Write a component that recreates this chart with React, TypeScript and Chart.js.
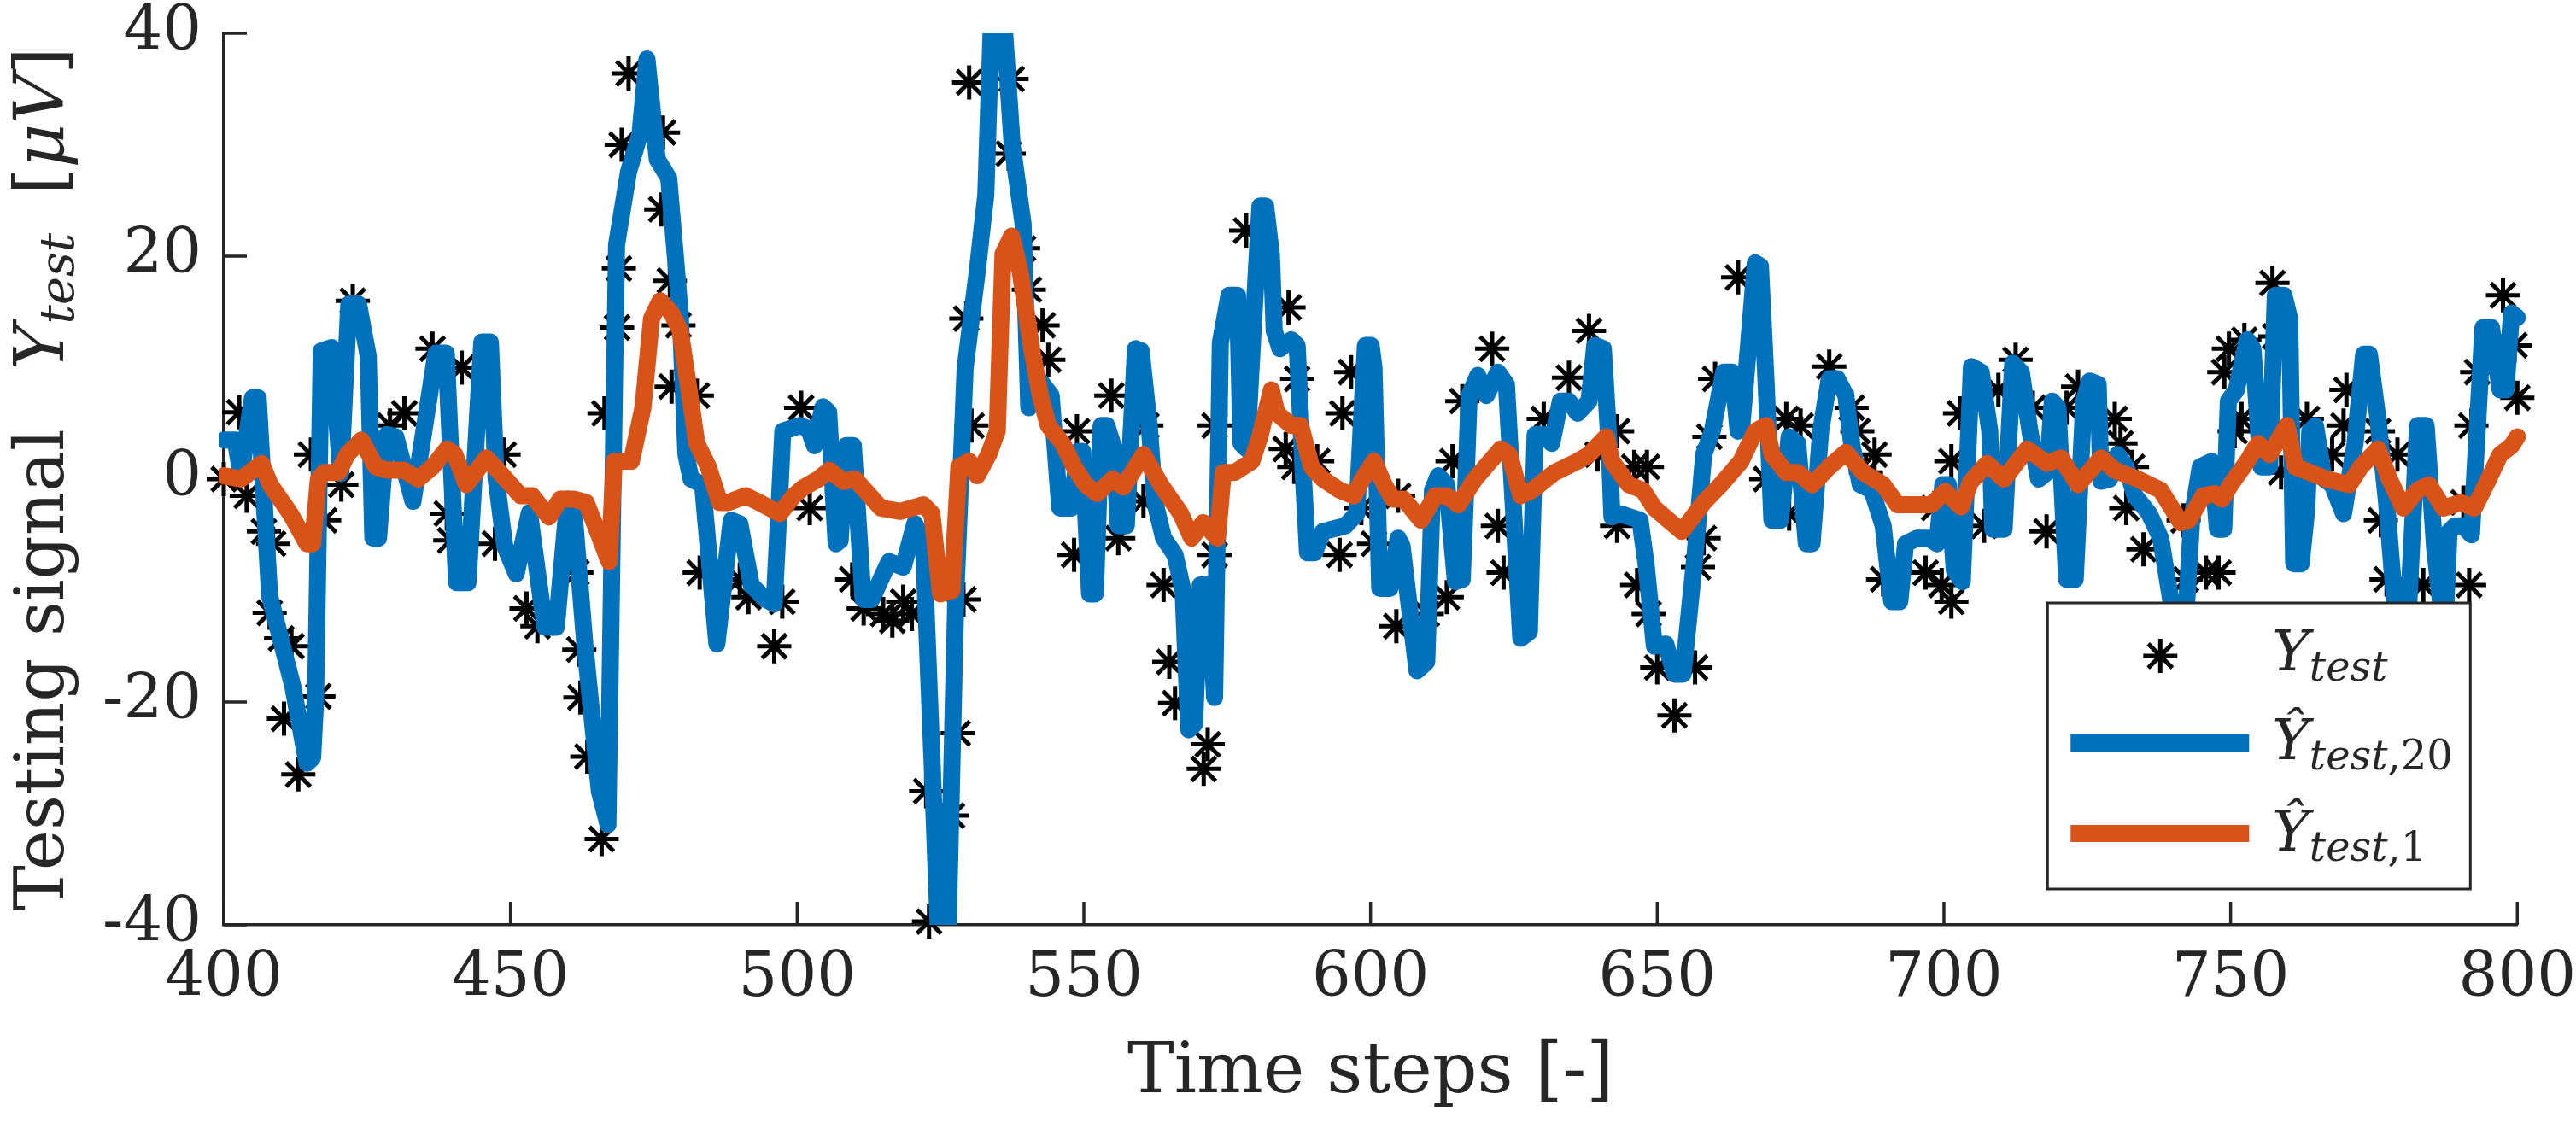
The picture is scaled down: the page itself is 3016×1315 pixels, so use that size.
import React, { useEffect, useRef } from "react";
import { Chart, registerables, Plugin } from "chart.js";

Chart.register(...registerables);

// Measured test signal (asterisks)
const testSteps = [
  400, 402.7, 404, 407, 408.6, 408, 410, 411.8, 410.5, 413, 416.5, 415.2, 417.5, 420.5, 422.5, 429, 431.5, 436.4,
  438.9, 439.5, 441.5, 447.3, 448.8, 452.8, 454.7, 461.5, 462, 462.2, 463.4, 465.9, 466.4, 468.6, 468.9, 469.4,
  470.6, 476.3, 476.6, 477.8, 478.1, 479.3, 482.5, 483, 490, 491.5, 496, 497.4, 500.7, 502.2, 509.6, 511.6, 515,
  516.6, 518.5, 520, 522.5, 523, 527, 528, 529, 529.5, 530.4, 530, 536.9, 537.4, 539.4, 540.4, 542.8, 543.8, 548.3,
  548.8, 554.8, 556, 560.4, 560.9, 563.9, 564.9, 565.9, 570.9, 571.6, 572.8, 572.8, 578.3, 585.2, 585.7, 586.7,
  587.2, 590.7, 594.6, 595.1, 596.6, 598.4, 600.6, 604.5, 604.8, 609.8, 613.3, 614.3, 616, 621.2, 622.2, 623.2,
  630.2, 634.6, 638.1, 639.6, 643, 643, 646, 646.5, 648.2, 648.5, 650, 653, 656.6, 657.1, 658.1, 659.1, 660.1,
  664.1, 669, 672.5, 673, 675, 680, 683.9, 684.9, 686.4, 687.9, 689.4, 696.8, 698.3, 699.6, 701.3, 701.3, 702.8,
  707, 709.5, 712.5, 715.5, 717.9, 721.4, 723.4, 729.8, 730.8, 731.8, 732.8, 734.8, 741.8, 742.2, 745.7, 747.9,
  748.9, 749.7, 750.7, 751.9, 752.4, 757.3, 757.8, 758.8, 763.3, 767.7, 769.7, 770.2, 775.7, 776.2, 777.2, 779.1,
  783.6, 790.6, 791.6, 792, 793, 797.5, 799.5, 800,
];
const testValues = [
  0, 6, -1.5, -4.7, -5.8, -12, -14.3, -15, -21.5, -26.5, -19.5, 2.2, -3.7, -0.5, 16, 4.8, 5.9, 11.7,
  -3.1, -5.5, 10, -5.8, 2.2, -11.6, -13.2, -8.4, -15.3, -19.6, -24.9, -32.3, 5.9, 13.6, 18.9, 30,
  36.4, 24.2, 31.1, 17.8, 8.3, 13.8, 7.5, -8.4, -9, -10.6, -15, -11, 6.4, -2.6, -9, -11.6, -12.1,
  -12.7, -11, -12.1, -28, -39.7, -30.2, -22.8, -10.8, 14.4, 4.8, 35.6, 29.2, 35.9, 20.7, 17, 13.8, 10.7, -6.8,
  4.3, 7.5, -5.3, -2, 4.8, -9.5, -16.4, -20.1, -26, -23.8, 4.8, -6.8, 22.3, 2.7, 15.4, 1.1,
  9, 1.6, -6.8, 5.9, 9.6, -2.6, -5.8, -13.2, -1.5, -12.1, -10.6, 1.6, 7, 11.7, -4.2, -8.4,
  5.4, 9.1, 13.3, 2.2, 4.3, -4.2, 1.1, -9.5, 1.1, -12.1, -16.9, -21.2, -16.9, -7.9, -5.3, 3.8, 9,
  18.1, 0, 5.4, -3.1, 4.8, 10.1, 6.4, 4.3, 0.6, 2.2, -9, -8.4, -2.6, -9.5, -11, 1.6, 5.9,
  -4.2, 8, 10.7, 6.4, -4.7, 6.4, 8.3, 5.4, 3.2, -2.6, 1.1, -6.3, -3.7, -9, -8.4, -8.4,
  9.6, 11.7, 4.3, 5.4, 12.5, 17.6, 12.8, 0.6, 5.4, 2.2, 4.8, 8, 4.3, -3.7, -9, 2.2,
  -9.5, -2.1, -9.5, 4.8, 9.6, 16.5, 12, 7.3,
];

// Prediction with 20 terms (blue)
const blueSteps = [
  400, 402, 403, 405, 406, 408, 412, 414.5, 415.5, 416, 417, 418.8, 420.4, 421.8, 423.5, 425.2, 426, 427, 428.4,
  430, 433, 437, 438.8, 440.6, 442.6, 445, 446.5, 447.5, 449, 451, 453.3, 456, 458, 460, 461, 463, 465.5, 467,
  468.5, 470.6, 472.6, 473.8, 475.6, 477.6, 479.6, 480.6, 481.5, 483.5, 486, 488.5, 490, 492, 494.5, 496, 497.5,
  500.5, 502, 503, 504.5, 505.5, 506.8, 507.5, 508.5, 509.8, 511.5, 513, 516, 518.5, 520.5, 522, 523.5, 524.8,
  526.2, 527.7, 529.3, 531.4, 532.9, 534, 535.8, 537.5, 539.4, 540.4, 542.4, 544.3, 545.8, 547.8, 549, 549.8,
  551, 552, 553, 554, 555.3, 556, 557.4, 559, 560, 561.4, 562.4, 563.9, 565.9, 567.3, 568.3, 569.3, 570.3, 571.8,
  572.8, 573.8, 575.3, 576.8, 577.4, 578.4, 580.7, 581.7, 582.7, 583.2, 584.2, 586.2, 587.2, 588.2, 589, 590.2,
  591.7, 595.6, 597.6, 599.1, 600.1, 600.6, 601.6, 603.4, 604.8, 605.5, 608.1, 609.8, 610.8, 611.8, 613.3, 614.8,
  616, 617.2, 618.7, 620.2, 622.2, 623.7, 626.2, 627.7, 628.7, 630.2, 631.6, 633.1, 634.6, 636.1, 638.1, 639.1,
  640.6, 641.6, 642.1, 643.5, 647, 648, 649.5, 651.5, 653, 654.5, 656.6, 658.1, 659.6, 661.6, 663.1, 664.1, 664.8,
  667.1, 668, 669, 670, 671.5, 673, 674.5, 676, 677, 678.5, 680, 681.4, 682.9, 683.9, 685.4, 687.4, 689.4, 690.9,
  692.3, 693.3, 695.3, 697.3, 698.8, 699.8, 700.8, 701.8, 703.2, 704.8, 706.5, 708, 708.5, 710.5, 712, 713.5, 715,
  716.5, 718, 718.9, 719.9, 721.4, 722.9, 724.4, 725.4, 726.9, 727.4, 728.9, 730.3, 731.8, 733.3, 735.8, 737.8,
  739.8, 741, 742, 743.2, 744.7, 746.7, 747.7, 748.8, 749.6, 751, 752.9, 753.9, 755.3, 756.8, 757.8, 759.3, 760.3,
  761, 762.3, 763.3, 763.8, 764.8, 766.3, 767.7, 769.7, 771.7, 773.2, 774.2, 775.7, 777.2, 778.7, 780, 781, 782.6,
  784.1, 785.6, 786.6, 787.3, 788.1, 789.1, 790.6, 792, 794, 795.5, 797, 798, 799, 800,
];
const blueValues = [
  3.5, 3.5, 0.5, 7.3, 7.3, -10.5, -18.5, -25.5, -25, -20, 11.5, 11.8, 0.5, 15.7, 15.7, 11, -5.3, -5.3, 4,
  3.8, -2, 11.3, 11.3, -9.3, -9.3, 12.3, 12.3, 0, -6, -8.5, -3, -13.3, -13.3, -1.8, -2.5, -15, -28, -31,
  21, 27.6, 31, 37.7, 28.7, 27, 14.9, 2.2, 0, -0.5, -14.8, -3.7, -4, -9.5, -10.8, -11.2, 4.3,
  4.8, 4.5, 3, 6.5, 6, -5.8, -5.5, 3, 3, -10.8, -10.8, -7.4, -7.9, -4, -5.5, -25, -43,
  -43, -10, 10, 18.6, 25.5, 43, 43, 30, 22.9, 6.4, 8.8, 7.5, -2.6, -2.6, 2.5, 2.5,
  -10.3, -10.3, 4.8, 4.8, 2.7, -4.2, -4.2, 11.7, 11.5, 4.8, -2.1, -5.3, -6.8, -10, -22.5, -22, -9.5, -9.5,
  -19.6, 12.2, 16.5, 16.5, 3.2, 2.7, 24.5, 24.5, 20.2, 13.3, 11.7, 12.5, 12, 1.1, -6.6, -6.6,
  -4.7, -4.2, -3.1, 12, 12, 10, -9.8, -9.8, -5.3, -6, -17.2, -16.4, -1, 0.3, -0.5, -9.2,
  -9, 7.5, 9.3, 7.5, 9.6, 8.5, -14.3, -13.7, 4, 4, 3.2, 7, 7, 5.9, 7, 12,
  11.7, 3.2, -3.4, -3.1, -3.7, -7.4, -15, -14.8, -17.5, -17.5, -6.8, 2.2, 4.3, 9.6, 9.6, 4.3, 5,
  19.4, 19.1, 8.5, -3.7, -3.7, 3.8, 3.2, -5.8, -5.8, 4.3, 9, 9, 7.5, 3.2, -0.5, -1, -4.2, -11,
  -11, -5.8, -5.3, -5.3, -5.8, -0.5, -0.5, -8.2, -9.2, 10.1, 9.6, 4.3, -4.5, -4.5, 10.4, 9.6, 4.3,
  0, 0.6, 7, 6.4, -9, -9, 7, 8.8, 8.5, -0.2, 0, 2.2, 1.1, -1.5, -3.1, -5.3,
  -11.6, -18, -14, -3.7, 1.1, 1.6, -4.5, -4.5, 7, 8, 12.5, 11.7, 1.1, 1.1, 16.5, 16.5, 14.4,
  -7.6, -7.6, -2.6, 4.3, 4.8, 0, -0.5, -3.1, 3.2, 11.2, 11.2, 5.4, -2.1, -11.6, -16, -12, 4.8,
  4.8, -6.3, -11, -14, -4.7, -4.2, -4.2, -5, 13.6, 13.6, 8, 8, 14.9, 14.5,
];

// Prediction with 1 term (orange)
const orangeSteps = [
  400, 403, 406.6, 408.1, 411.6, 414.5, 415.5, 416.5, 417.5, 420, 421.5, 424, 426.5, 428.4, 431.4, 433.9, 436.4,
  438.9, 440.3, 442.3, 445.8, 447.8, 451.8, 453.8, 456.7, 458.7, 461, 463.2, 465.2, 467.2, 468.1, 471.1, 473.1,
  474.6, 476.1, 478.1, 479.6, 481, 482.5, 484.5, 486.5, 488, 491, 493.4, 497, 499.4, 501, 503.7, 505.6, 508.1,
  510.1, 514.6, 518, 522, 523.5, 525, 527, 528.2, 530, 531.4, 533.4, 534.9, 535.9, 537.4, 538.9, 540.9, 542.4,
  543.8, 546.3, 548.3, 550.3, 552.3, 555, 556.9, 560.4, 563.4, 566.9, 568.8, 570.8, 573.3, 574.3, 576.3, 579.3,
  580.7, 582.7, 583.7, 586.2, 587.8, 589.7, 591.7, 594.6, 597.1, 598.6, 600.6, 602.4, 603.9, 605.8, 608.8, 611.3,
  613.3, 615.3, 618.2, 622.7, 624.2, 626.2, 628.2, 632.1, 636.1, 638.1, 641.1, 642.1, 645, 647.5, 649.5, 652,
  654.3, 658.1, 661.1, 664.6, 667.1, 669, 670, 672.5, 674.5, 677, 680, 682.9, 685.9, 689.4, 691.9, 697.8, 700.2,
  703, 704.6, 707.5, 710.5, 714.5, 718, 720.4, 723.4, 727.4, 729.8, 733.8, 737.8, 741.3, 742.7, 745.2, 747.2,
  748.5, 750, 752.9, 754.8, 756.8, 759.8, 761.3, 763.8, 766.7, 770.7, 772.7, 775.7, 777.7, 780.1, 782.6, 784.6,
  787.1, 790.1, 792.5, 795, 797, 799, 800,
];
const orangeValues = [
  0.3, 0, 1.4, -0.5, -3.1, -5.8, -5.8, 0, 0.6, 0.6, 2.2, 3.5, 1.1, 0.8, 0.8, 0, 1.1,
  2.7, 2.2, -0.5, 1.9, 0.8, -1.5, -1.5, -3.4, -1.8, -1.8, -2.1, -4.7, -7.4, 1.6, 1.6, 6.4,
  14.4, 16, 14.9, 13.3, 8.5, 3.2, 1.1, -2.1, -2.1, -1.5, -2.1, -3.1, -1.5, -0.8, 0, 0.8, -0.2,
  0, -2.6, -2.9, -2.3, -3.1, -10.3, -10, 1.1, 1.6, 0.3, 2.2, 4.3, 20.2, 21.8, 18.6, 11.7, 7.5,
  4.8, 3.2, 1.1, -0.5, -1.3, 0, -0.7, 2.2, -0.5, -3.1, -5.3, -3.9, -5.3, 0.6, 0.6, 1.6,
  3.8, 8, 5.9, 4.8, 4.8, 1.1, 0, -1, -1.5, 0, 1.6, -0.5, -1.8, -1.8, -3.7, -1.5,
  -1.5, -2.3, 0, 2.7, 2.2, -1.5, -1, 0.6, 1.6, 2.2, 3.8, 1.6, -0.5, -1, -2.6, -3.7,
  -4.7, -2.1, -0.5, 1.6, 4.3, 4.8, 2.2, 0.6, 0.6, -0.5, 1.1, 2.4, 0.6, -0.5, -2.3, -2.3, -1.1,
  -2.5, -0.3, 1.4, 0, 2.7, 1.4, 1.9, -0.5, 1.9, 0.8, 0, -1, -3.9, -3.7, -1.5, -1.3,
  -1.8, -0.5, 1.6, 3.2, 2.2, 4.8, 1.1, 0.6, 0, -0.5, 1.1, 2.7, 0, -2.6, -1, -0.5,
  -2.6, -2.1, -2.6, 0, 2.2, 3, 3.8,
];

const xTicks = [400, 450, 500, 550, 600, 650, 700, 750, 800];
const yTicks = [-40, -20, 0, 20, 40];

const AXIS = "#262626";
const BLUE = "#0072BD";
const ORANGE = "#D95319";
const FONT = "DejaVu Serif";
const FAMILY = `"${FONT}", serif`;

const toPoints = (xs: number[], ys: number[]) => xs.map((x, i) => ({ x, y: ys[i] }));

type Run = { text: string; size: number; italic?: boolean; dy?: number; gap?: number };

const runFont = (r: Run) => `${r.italic ? "italic " : ""}${r.size}px ${FAMILY}`;

const drawRuns = (ctx: CanvasRenderingContext2D, runs: Run[], x: number, y: number) => {
  let cx = x;
  runs.forEach((r) => {
    cx += r.gap || 0;
    ctx.font = runFont(r);
    ctx.fillText(r.text, cx, y + (r.dy || 0));
    cx += ctx.measureText(r.text).width;
  });
  return cx - x;
};

const measureRuns = (ctx: CanvasRenderingContext2D, runs: Run[]) => {
  let w = 0;
  runs.forEach((r) => {
    ctx.font = runFont(r);
    w += (r.gap || 0) + ctx.measureText(r.text).width;
  });
  return w;
};

const yTitleRuns: Run[] = [
  { text: "Testing signal", size: 80 },
  { text: "Y", size: 80, italic: true, gap: 70 },
  { text: "test", size: 56, italic: true, dy: 12 },
  { text: "[", size: 80, gap: 45 },
  { text: "μ", size: 80, italic: true },
  { text: "V", size: 80, italic: true },
  { text: "]", size: 80 },
];

const legendRows: Run[][] = [
  [
    { text: "Y", size: 66, italic: true },
    { text: "test", size: 48, italic: true, dy: 12 },
  ],
  [
    { text: "Ŷ", size: 66, italic: true },
    { text: "test", size: 48, italic: true, dy: 12 },
    { text: ",20", size: 48, dy: 12 },
  ],
  [
    { text: "Ŷ", size: 66, italic: true },
    { text: "test", size: 48, italic: true, dy: 12 },
    { text: ",1", size: 48, dy: 12 },
  ],
];

const inwardTicks: Plugin = {
  id: "inwardTicks",
  beforeDatasetsDraw(chart) {
    const { ctx, chartArea, scales } = chart;
    ctx.save();
    ctx.strokeStyle = AXIS;
    ctx.lineWidth = 3.5;
    ctx.beginPath();
    xTicks.forEach((t) => {
      const px = scales.x.getPixelForValue(t);
      ctx.moveTo(px, chartArea.bottom);
      ctx.lineTo(px, chartArea.bottom - 27);
    });
    yTicks.forEach((t) => {
      const py = scales.y.getPixelForValue(t);
      ctx.moveTo(chartArea.left, py);
      ctx.lineTo(chartArea.left + 27, py);
    });
    ctx.stroke();
    ctx.restore();
  },
};

const titlesAndLegend: Plugin = {
  id: "titlesAndLegend",
  afterDraw(chart) {
    const { ctx, chartArea } = chart;
    ctx.save();
    ctx.fillStyle = AXIS;
    ctx.textBaseline = "alphabetic";
    ctx.textAlign = "left";

    // rotated y axis title
    const total = measureRuns(ctx, yTitleRuns);
    ctx.save();
    ctx.translate(74, (chartArea.top + chartArea.bottom) / 2);
    ctx.rotate(-Math.PI / 2);
    drawRuns(ctx, yTitleRuns, -total / 2, 0);
    ctx.restore();

    // legend box
    const bw = 495;
    const bh = 335;
    const left = chartArea.right - 55 - bw;
    const top = chartArea.bottom - 42 - bh;
    ctx.fillStyle = "#ffffff";
    ctx.fillRect(left, top, bw, bh);
    ctx.strokeStyle = AXIS;
    ctx.lineWidth = 3;
    ctx.strokeRect(left, top, bw, bh);

    // asterisk sample
    const sx = left + 132;
    const sy = top + 62;
    const r = 20;
    ctx.strokeStyle = "#000000";
    ctx.lineWidth = 5;
    ctx.beginPath();
    for (let k = 0; k < 4; k++) {
      const a = (k * Math.PI) / 4;
      ctx.moveTo(sx - r * Math.cos(a), sy - r * Math.sin(a));
      ctx.lineTo(sx + r * Math.cos(a), sy + r * Math.sin(a));
    }
    ctx.stroke();

    // line samples
    ctx.lineWidth = 20;
    ctx.strokeStyle = BLUE;
    ctx.beginPath();
    ctx.moveTo(left + 27, top + 164);
    ctx.lineTo(left + 236, top + 164);
    ctx.stroke();
    ctx.strokeStyle = ORANGE;
    ctx.beginPath();
    ctx.moveTo(left + 27, top + 270);
    ctx.lineTo(left + 236, top + 270);
    ctx.stroke();

    ctx.fillStyle = AXIS;
    const baselines = [79, 183, 290];
    legendRows.forEach((row, i) => drawRuns(ctx, row, left + 263, top + baselines[i]));
    ctx.restore();
  },
};

const App: React.FC = () => {
  const chartRef = useRef<HTMLCanvasElement | null>(null);

  useEffect(() => {
    document.body.style.margin = "0";
    if (!chartRef.current) return;
    const ctx = chartRef.current.getContext("2d");
    if (!ctx) return;

    const lineClip = { left: 6, top: 0, right: 14, bottom: 0 };

    const myChart = new Chart(ctx, {
      type: "scatter",
      data: {
        datasets: [
          {
            label: "Y test",
            data: toPoints(testSteps, testValues),
            showLine: false,
            pointStyle: "star",
            pointRadius: 20,
            pointBorderWidth: 5,
            pointBorderColor: "#000000",
            pointBackgroundColor: "#000000",
            order: 3,
            clip: false,
          },
          {
            label: "Y hat test,20",
            data: toPoints(blueSteps, blueValues),
            showLine: true,
            borderColor: BLUE,
            borderWidth: 20,
            borderJoinStyle: "round",
            borderCapStyle: "round",
            pointRadius: 0,
            tension: 0,
            order: 2,
            clip: lineClip,
          },
          {
            label: "Y hat test,1",
            data: toPoints(orangeSteps, orangeValues),
            showLine: true,
            borderColor: ORANGE,
            borderWidth: 20,
            borderJoinStyle: "round",
            borderCapStyle: "round",
            pointRadius: 0,
            tension: 0,
            order: 1,
            clip: lineClip,
          },
        ],
      },
      options: {
        responsive: false,
        animation: false,
        devicePixelRatio: 1,
        layout: { padding: { left: 0, right: 64, top: 39, bottom: 0 } },
        plugins: {
          legend: { display: false },
          tooltip: { enabled: false },
        },
        scales: {
          x: {
            type: "linear",
            min: 400,
            max: 800,
            afterFit: (axis) => {
              axis.height = 232;
            },
            afterBuildTicks: (axis) => {
              axis.ticks = xTicks.map((v) => ({ value: v }));
            },
            ticks: {
              maxRotation: 0,
              autoSkip: false,
              padding: 0,
              color: AXIS,
              font: { family: FAMILY, size: 72, lineHeight: 1.2 },
            },
            grid: { display: false, drawTicks: true, tickLength: 21 },
            border: { display: true, color: AXIS, width: 3.5 },
            title: {
              display: true,
              text: "Time steps [-]",
              color: AXIS,
              font: { family: FAMILY, size: 82, lineHeight: 1.2 },
              padding: { top: 0, bottom: 8 },
            },
          },
          y: {
            type: "linear",
            min: -40,
            max: 40,
            afterFit: (axis) => {
              axis.width = 262;
            },
            afterBuildTicks: (axis) => {
              axis.ticks = yTicks.map((v) => ({ value: v }));
            },
            ticks: {
              padding: 0,
              color: AXIS,
              font: { family: FAMILY, size: 72, lineHeight: 0.9 },
            },
            grid: { display: false, drawTicks: true, tickLength: 26 },
            border: { display: true, color: AXIS, width: 3.5 },
          },
        },
      },
      plugins: [inwardTicks, titlesAndLegend],
    });

    // the serif face has to be loaded before the final paint
    Promise.all([document.fonts.load(`72px ${FAMILY}`), document.fonts.load(`italic 72px ${FAMILY}`)])
      .catch(() => undefined)
      .then(() => {
        myChart.update();
      });

    return () => {
      myChart.destroy();
    };
  }, []);

  return (
    <div style={{ position: "absolute", left: 0, top: 0, width: 3016, height: 1315, background: "#ffffff" }}>
      <canvas ref={chartRef} width={3016} height={1315} style={{ display: "block" }} />
    </div>
  );
};

export default App;
